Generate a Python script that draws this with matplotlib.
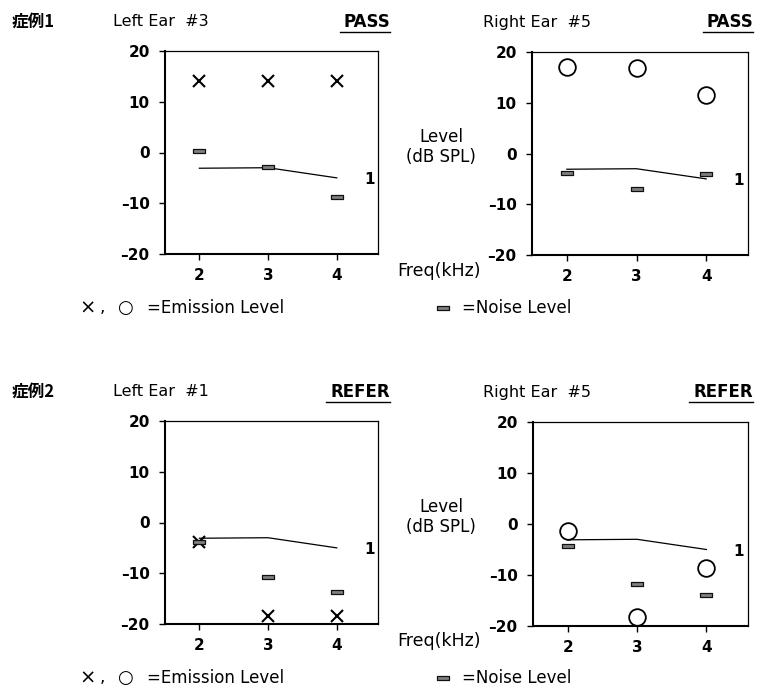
import matplotlib.pyplot as plt
import numpy as np

plt.rcParams['font.family'] = ['DejaVu Sans']

# datos
freq = [2, 3, 4]
criterio = [-3.1, -3.0, -5.0]

case1_left_emission = [14.0, 14.0, 14.0]
case1_left_noise = [0.2, -2.8, -8.7]
case1_right_emission = [17.0, 16.9, 11.5]
case1_right_noise = [-3.9, -6.9, -4.1]

case2_left_emission = [-3.9, -18.4, -18.4]
case2_left_noise = [-3.8, -10.7, -13.6]
case2_right_emission = [-1.4, -18.3, -8.6]
case2_right_noise = [-4.4, -11.8, -14.0]

W, H = 757, 688
fig = plt.figure(figsize=(W / 100, H / 100), dpi=100)

# marcador de ruido: rectangulo corto
noise_marker = [(-3, -1), (3, -1), (3, 1), (-3, 1), (-3, -1)]
noise_style = dict(ls='none', marker=noise_marker, ms=8.6, mfc='#808080',
                   mec='#111111', mew=0.9)


def px(x, y):
    return x / W, 1 - y / H


def panel(left, top, right, bottom, emission, noise, marker):
    x0, y1 = px(left, top)
    x1, y0 = px(right, bottom)
    ax = fig.add_axes([x0, y0, x1 - x0, y1 - y0])
    ax.plot(freq, criterio, color='black', lw=0.9)
    if marker == 'x':
        ax.plot(freq, emission, 'x', color='black', ms=8, mew=1.5, clip_on=False)
    else:
        ax.plot(freq, emission, 'o', mfc='none', mec='black', ms=12, mew=1.3, clip_on=False)
    ax.plot(freq, noise, **noise_style)
    ax.text(4.47, -5.3, '1', fontsize=11, fontweight='bold', ha='center', va='center')
    ax.set_xlim(1.5, 4.6)
    ax.set_ylim(-20, 20)
    ax.set_xticks(freq)
    ax.set_yticks([-20, -10, 0, 10, 20])
    ax.set_yticklabels(['\u201320', '\u201310', '0', '10', '20'])
    ax.tick_params(direction='out', length=4, width=1.0, labelsize=11)
    ax.tick_params(axis='y', pad=7)
    ax.tick_params(axis='x', pad=6)
    for lab in ax.get_xticklabels() + ax.get_yticklabels():
        lab.set_fontweight('bold')
    ax.spines['left'].set_linewidth(1.5)
    ax.spines['bottom'].set_linewidth(1.5)
    ax.spines['top'].set_linewidth(0.9)
    ax.spines['right'].set_linewidth(0.9)
    return ax


panel(165, 51, 378, 254, case1_left_emission, case1_left_noise, 'x')
panel(532, 52, 748, 255, case1_right_emission, case1_right_noise, 'o')
panel(165, 421, 378, 624, case2_left_emission, case2_left_noise, 'x')
panel(533, 422, 748, 626, case2_right_emission, case2_right_noise, 'o')


def textos(dy, caso, izq, der, estado):
    fig.text(*px(12, 22 + dy), caso, fontsize=12, fontweight='bold', va='center',
             family=['Noto Sans CJK JP', 'DejaVu Sans'])
    fig.text(*px(113, 22 + dy), izq, fontsize=11.5, va='center')
    fig.text(*px(390, 22 + dy), estado, fontsize=12, fontweight='bold', va='center',
             ha='right')
    fig.text(*px(483, 22 + dy), der, fontsize=11.5, va='center')
    fig.text(*px(753, 22 + dy), estado, fontsize=12, fontweight='bold', va='center',
             ha='right')
    # subrayado
    ancho = 50 if estado == 'PASS' else 64
    for xr in (390, 753):
        xa, ya = px(xr - ancho, 32 + dy)
        xb, _ = px(xr, 32 + dy)
        fig.add_artist(plt.Line2D([xa, xb], [ya, ya], color='black', lw=1.0))
    fig.text(*px(441, 147 + dy), 'Level\n(dB SPL)', fontsize=12, ha='center',
             va='center', linespacing=1.15)
    fig.text(*px(397, 271 + dy), 'Freq(kHz)', fontsize=12.5, ha='left', va='center')
    ly = 308 + dy
    fig.text(*px(88, ly), '\u00d7', fontsize=14, ha='center', va='center')
    fig.text(*px(102, ly - 1), ',', fontsize=12, ha='center', va='center')
    fig.text(*px(125, ly), '\u25cb', fontsize=13, ha='center', va='center')
    fig.text(*px(147, ly), '=Emission Level', fontsize=12, va='center')
    xm, ym = px(443, ly)
    fig.add_artist(plt.Line2D([xm], [ym], **noise_style))
    fig.text(*px(462, ly), '=Noise Level', fontsize=12, va='center')


textos(0, '症例1', 'Left Ear  #3', 'Right Ear  #5', 'PASS')
textos(370, '症例2', 'Left Ear  #1', 'Right Ear  #5', 'REFER')

fig.savefig('out.png', dpi=100, facecolor='white')
